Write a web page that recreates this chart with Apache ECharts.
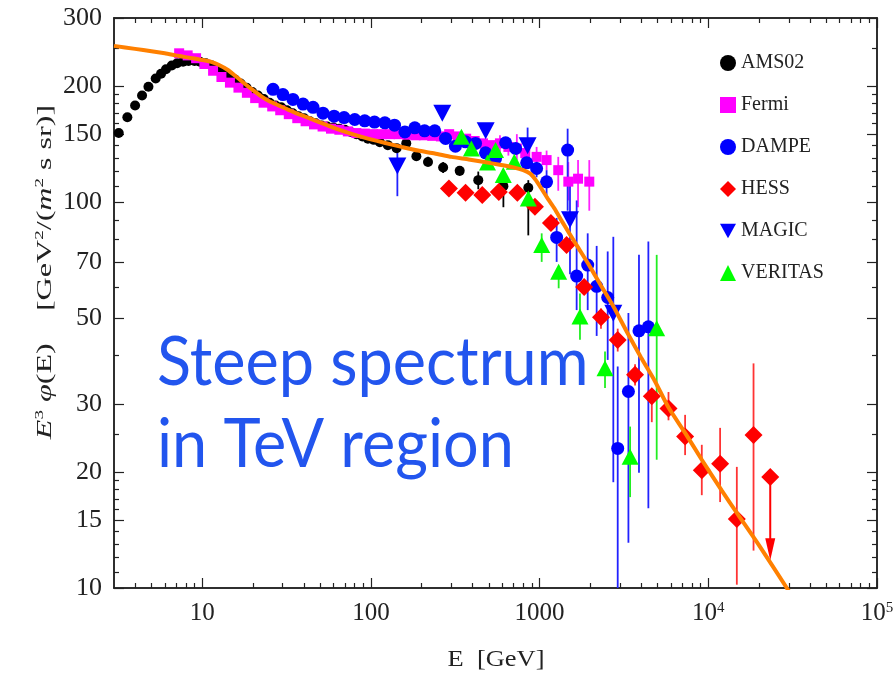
<!DOCTYPE html>
<html>
<head>
<meta charset="utf-8">
<script src="https://cdn.jsdelivr.net/npm/echarts@6/dist/echarts.min.js"></script>
<style>
  html, body { margin: 0; padding: 0; background: #fff; }
  #chart { width: 894px; height: 679px; }
</style>
</head>
<body>
<div id="chart"></div>
<script>
// ---- data: [E (GeV), E^3 phi] ----
const ams02 = [
  [3.2,151],[3.6,166],[4.0,178],[4.4,189],[4.8,199],[5.3,209],[5.7,215],[6.1,221],[6.6,226],
  [7.1,229],[7.7,231],[8.3,232],[9.0,232],[9.7,231],[10.5,229],[11.4,226],[12.3,222],[13.3,218],
  [14.4,213],[15.6,208],[16.9,203],[18.3,198],[19.8,193],[21.4,189],[23.2,185],[25.1,181],
  [27.2,178],[29.4,176],[31.8,173],[34.4,170],[37.2,167],[40.2,165],[43.5,162],[47.1,160],
  [51,158],[55,157],[60,156],[65,155],[70,154],[76,152],[82,150],[89,148],[96,146],[104,145],
  [113,143],[126,140.5],[142,138],[162,142],[186,131.5],[218,127],[268,123],[336,120.5],
  [433,114],[610,110],[857,109]
];
const ams02Err = [[218,124,131],[268,119,127],[336,117,124],[433,108,120],[610,97,114],[857,82,114]];

const fermi = [
  [7.3,243],[8.2,240],[9.2,236],[10.3,228],[11.6,219],[13,211],[14.6,204],[16.4,198],[18.4,192],
  [20.6,186],[23.1,181],[26,177],[29,173],[32.6,169],[36.6,165],[41,162],[46,159],[51.7,157],
  [58,155],[65,154],[73,152.5],[82,151],[92,150.5],[103,150],[116,150],[130,150],[146,150],
  [164,149.5],[184,149],[206,149],[231,148.5],[260,148],[291,150],[327,148],[367,146],[412,144],
  [462,142],[519,140.5],[582,142],[653,139],[733,137.7],[822,134],[960,131],[1100,128.5],
  [1290,121],[1480,113],[1690,115],[1970,113]
];
const fermiErr = [
  [582,135,149],[653,132,146],[733,128.5,150],[822,126,143],[960,119,139],[1100,121,136],
  [1290,107,131],[1480,101,127],[1690,97,128.5],[1970,95,128.5]
];

const dampe = [
  [26.3,196],[30.1,190],[34.5,184.5],[39.6,179.5],[45.4,176],[52,170],[60.5,167],[69.3,165.6],
  [80.2,163.7],[91.9,162.4],[105,161.2],[121,160.5],[138,158.3],[159,152],[182,155.8],[208,153],
  [239,153],[277,146.2],[317,139.6],[364,143.3],[417,141.9],[478,134.2],[548,129.7],[629,142.5],
  [721,137.7],[838,126.4],[960,122.2],[1100,112.9],[1262,81],[1466,136.4],[1658,64.3],
  [1928,68.7],[2179,60.5],[2533,56.6],[2904,23],[3361,32.3],[3882,46.4],[4413,47.5]
];
const dampeErr = [
  [960,116,129],[1100,104,121],[1262,70,91],[1466,95,155],[1658,52.5,101],[1928,52.5,83],
  [2179,45,77],[2533,39,74.5],[2904,10,37.5],[3361,13.1,51.6],[3882,19.9,73],[4413,16.1,79]
];

const hess = [
  [290,108.5],[364,105.7],[457,104.3],[573,106.3],[738,105.7],[938,97.3],[1167,88.3],[1445,77.4],
  [1836,60.3],[2311,50.3],[2904,43.9],[3680,35.7],[4624,31.4],[5808,29.2],[7286,24.7],[9150,20.2],
  [11750,21],[14760,15.1],[18540,24.9],[23290,19.4]
];
const hessErr = [
  [2311,47,53],[2904,41,47],[3680,33.5,38],[4624,26.9,32.2],[5808,27.2,32.2],[7286,22.1,28.1],
  [9150,17.4,23.5],[11750,16.7,26],[14760,10.2,20.6],[18540,12.5,38.2]
];
const hessLimit = [[23290,19.4,11.8]];

const magic = [[143.5,124],[265,170],[479,153],[849,140],[1514,90],[2735,51.5]];
const magicErr = [[143.5,103.6,140],[849,131.5,156],[1514,65,114],[2735,18.8,81.3]];

const veritas = [
  [344,147.6],[394,137.7],[491,126.6],[548,136.4],[609,117.5],[708,127.2],[857,102.2],
  [1029,77.4],[1297,66],[1735,50.5],[2442,37.1],[3440,21.9],[4944,47.1]
];
const veritasErr = [
  [1029,70,83],[1297,59.8,67.5],[1735,44,58],[2442,33,41],[3440,17.2,26.2],[4944,21.5,73]
];

// model curve (orange)
const modelE = [3,4,5,6,7,8,9,10,11.3,12.5,14.2,16,17.8,20,22.4,25,28.1,32,38.7,48,60.9,76,96,
  120,152,190,239,300,380,470,580,700,800,880,950,1030,1120,1230,1360,1500,1700,1950,2300,2750,
  3300,4000,4800,5800,7300,9150,12000,15000,20000,29200,32000];
const modelV = [254,249.5,246,243,240,237.5,235.5,233.5,231,227,220,211,203,195,188,182.5,178.4,
  174,168,162,155.5,150.5,146,142.5,139,136,133.7,131,129,127,125,123,121,118.5,114,108,102,
  96,89,83,76,69,61,53.5,46,39.5,34.5,29.4,25.2,21.5,17.9,15.5,12.9,10,9.4];

// ticks
const xMajorTicks = [10, 100, 1000, 10000, 100000];
const xMinorTicks = [4,5,6,7,8,9,20,30,40,50,60,70,80,90,200,300,400,500,600,700,800,900,
  2000,3000,4000,5000,6000,7000,8000,9000,20000,30000,40000,50000,60000,70000,80000,90000];
const yMajorTicks = [10, 15, 20, 30, 50, 70, 100, 150, 200, 300];
const yMinorTicks = [11,12,13,14,16,17,18,19,25,40,60,80,90,110,120,130,140,160,170,180,190,250];

const serif = 'Liberation Serif';
const ink = '#222';

const chart = echarts.init(document.getElementById('chart'));

function xAx(pos, ticks, len, withLabels) {
  return {
    type: 'log', logBase: 10, min: 3, max: 100000, position: pos,
    axisLine: { show: true, onZero: false, lineStyle: { color: ink, width: 1.5 } },
    axisTick: { show: true, inside: true, length: len, customValues: ticks,
      lineStyle: { color: ink, width: 1.2 } },
    axisLabel: withLabels ? {
      show: true, customValues: xMajorTicks, margin: 13,
      fontFamily: serif, fontSize: 25, color: ink,
      formatter: function (v) {
        if (v >= 10000) return '10{sup|' + Math.round(Math.log10(v)) + '}';
        return String(Math.round(v));
      },
      rich: { sup: { fontFamily: serif, fontSize: 15, color: ink, verticalAlign: 'top', padding: [0, 0, 10, 0] } }
    } : { show: false },
    splitLine: { show: false }, minorTick: { show: false }, minorSplitLine: { show: false }
  };
}

function yAx(pos, ticks, len, withLabels) {
  return {
    type: 'log', logBase: 10, min: 10, max: 300, position: pos,
    axisLine: { show: true, onZero: false, lineStyle: { color: ink, width: 1.5 } },
    axisTick: { show: true, inside: true, length: len, customValues: ticks,
      lineStyle: { color: ink, width: 1.2 } },
    axisLabel: withLabels ? {
      show: true, customValues: yMajorTicks, margin: 12,
      fontFamily: serif, fontSize: 26, color: ink,
      formatter: function (v) { return String(Math.round(v)); }
    } : { show: false },
    splitLine: { show: false }, minorTick: { show: false }, minorSplitLine: { show: false }
  };
}

function errorBars(name, rows, color, width) {
  return {
    name: name, type: 'custom', xAxisIndex: 0, yAxisIndex: 0, data: rows, silent: true,
    encode: { x: 0, y: [1, 2] },
    renderItem: function (params, api) {
      const a = api.coord([api.value(0), api.value(1)]);
      const b = api.coord([api.value(0), api.value(2)]);
      return { type: 'line', shape: { x1: a[0], y1: a[1], x2: b[0], y2: b[1] },
        style: { stroke: color, lineWidth: width } };
    }
  };
}

function dots(name, rows, symbol, size, color, rotate) {
  return {
    name: name, type: 'scatter', xAxisIndex: 0, yAxisIndex: 0, data: rows,
    symbol: symbol, symbolSize: size, symbolRotate: rotate || 0,
    itemStyle: { color: color, opacity: 1 }, silent: true
  };
}

const option = {
  animation: false,
  backgroundColor: '#fff',
  grid: { left: 114, right: 17, top: 18, bottom: 91, outerBoundsMode: 'none' },
  xAxis: [
    xAx('bottom', xMajorTicks, 10, true),
    xAx('bottom', xMinorTicks, 5, false),
    xAx('top', xMajorTicks, 10, false),
    xAx('top', xMinorTicks, 5, false)
  ],
  yAxis: [
    yAx('left', yMajorTicks, 10, true),
    yAx('left', yMinorTicks, 5, false),
    yAx('right', yMajorTicks, 10, false),
    yAx('right', yMinorTicks, 5, false)
  ],
  legend: {
    orient: 'vertical', left: 715, top: 48, itemGap: 22, itemWidth: 16, itemHeight: 16,
    textStyle: { fontFamily: serif, fontSize: 20, color: ink },
    data: ['AMS02', 'Fermi', 'DAMPE', 'HESS',
      { name: 'MAGIC', icon: 'path://M0,0L20,0L10,18Z' }, 'VERITAS'],
    selectedMode: false
  },
  graphic: [
    {
      type: 'text', x: 157, y: 329, scaleY: 1.08, silent: true,
      style: { text: 'Steep spectrum', font: '63px Lato', fill: '#2255ee', verticalAlign: 'top' }
    },
    {
      type: 'text', x: 157, y: 411, scaleY: 1.08, silent: true,
      style: { text: 'in TeV region', font: '63px Lato', fill: '#2255ee', verticalAlign: 'top' }
    },
    {
      type: 'text', x: 45, y: 272, rotation: Math.PI / 2, scaleX: 1.46, silent: true,
      style: {
        text: '{i|E}{sup|3} {i|\u03c6}(E)    [GeV{sup|2}/({i|m}{sup|2} s sr)]',
        align: 'center', verticalAlign: 'middle',
        fontFamily: serif, fontSize: 22, fill: ink,
        rich: {
          i: { fontFamily: serif, fontStyle: 'italic', fontSize: 22, fill: ink },
          sup: { fontFamily: serif, fontSize: 13, fill: ink, verticalAlign: 'top', padding: [0, 0, 10, 0] }
        }
      }
    },
    {
      type: 'text', x: 496, y: 660, scaleX: 1.15, silent: true,
      style: { text: 'E  [GeV]', align: 'center', verticalAlign: 'middle',
        fontFamily: serif, fontSize: 23, fill: ink }
    }
  ],
  series: [
    errorBars('ams02-err', ams02Err, '#000', 1.8),
    dots('AMS02', ams02, 'circle', 10, '#000'),
    errorBars('fermi-err', fermiErr, '#ff22ff', 1.8),
    dots('Fermi', fermi, 'rect', 10, '#ff00ff'),
    errorBars('dampe-err', dampeErr, '#2222ff', 1.8),
    dots('DAMPE', dampe, 'circle', 13, '#0000ff'),
    errorBars('hess-err', hessErr, '#ff3333', 1.8),
    {
      name: 'hess-limit', type: 'custom', xAxisIndex: 0, yAxisIndex: 0, data: hessLimit, silent: true,
      encode: { x: 0, y: [1, 2] },
      renderItem: function (params, api) {
        const a = api.coord([api.value(0), api.value(1)]);
        const b = api.coord([api.value(0), api.value(2)]);
        return { type: 'group', children: [
          { type: 'line', shape: { x1: a[0], y1: a[1], x2: b[0], y2: b[1] - 10 },
            style: { stroke: '#ff0000', lineWidth: 2 } },
          { type: 'polygon', shape: { points: [[b[0] - 5, b[1] - 22], [b[0] + 5, b[1] - 22], [b[0], b[1]]] },
            style: { fill: '#ff0000' } }
        ] };
      }
    },
    dots('HESS', hess, 'diamond', 18, '#ff0000'),
    errorBars('magic-err', magicErr, '#2222ff', 1.8),
    dots('MAGIC', magic, 'triangle', [18, 17], '#0000ff', 180),
    errorBars('veritas-err', veritasErr, '#22ee22', 1.8),
    dots('VERITAS', veritas, 'triangle', [17, 16], '#00ff00'),
    {
      name: 'model', type: 'line', xAxisIndex: 0, yAxisIndex: 0,
      data: modelE.map(function (e, i) { return [e, modelV[i]]; }),
      showSymbol: false, symbol: 'none', smooth: 0.2, silent: true, clip: true,
      lineStyle: { color: '#ff8000', width: 4 }
    }
  ]
};

chart.setOption(option);
</script>
</body>
</html>
